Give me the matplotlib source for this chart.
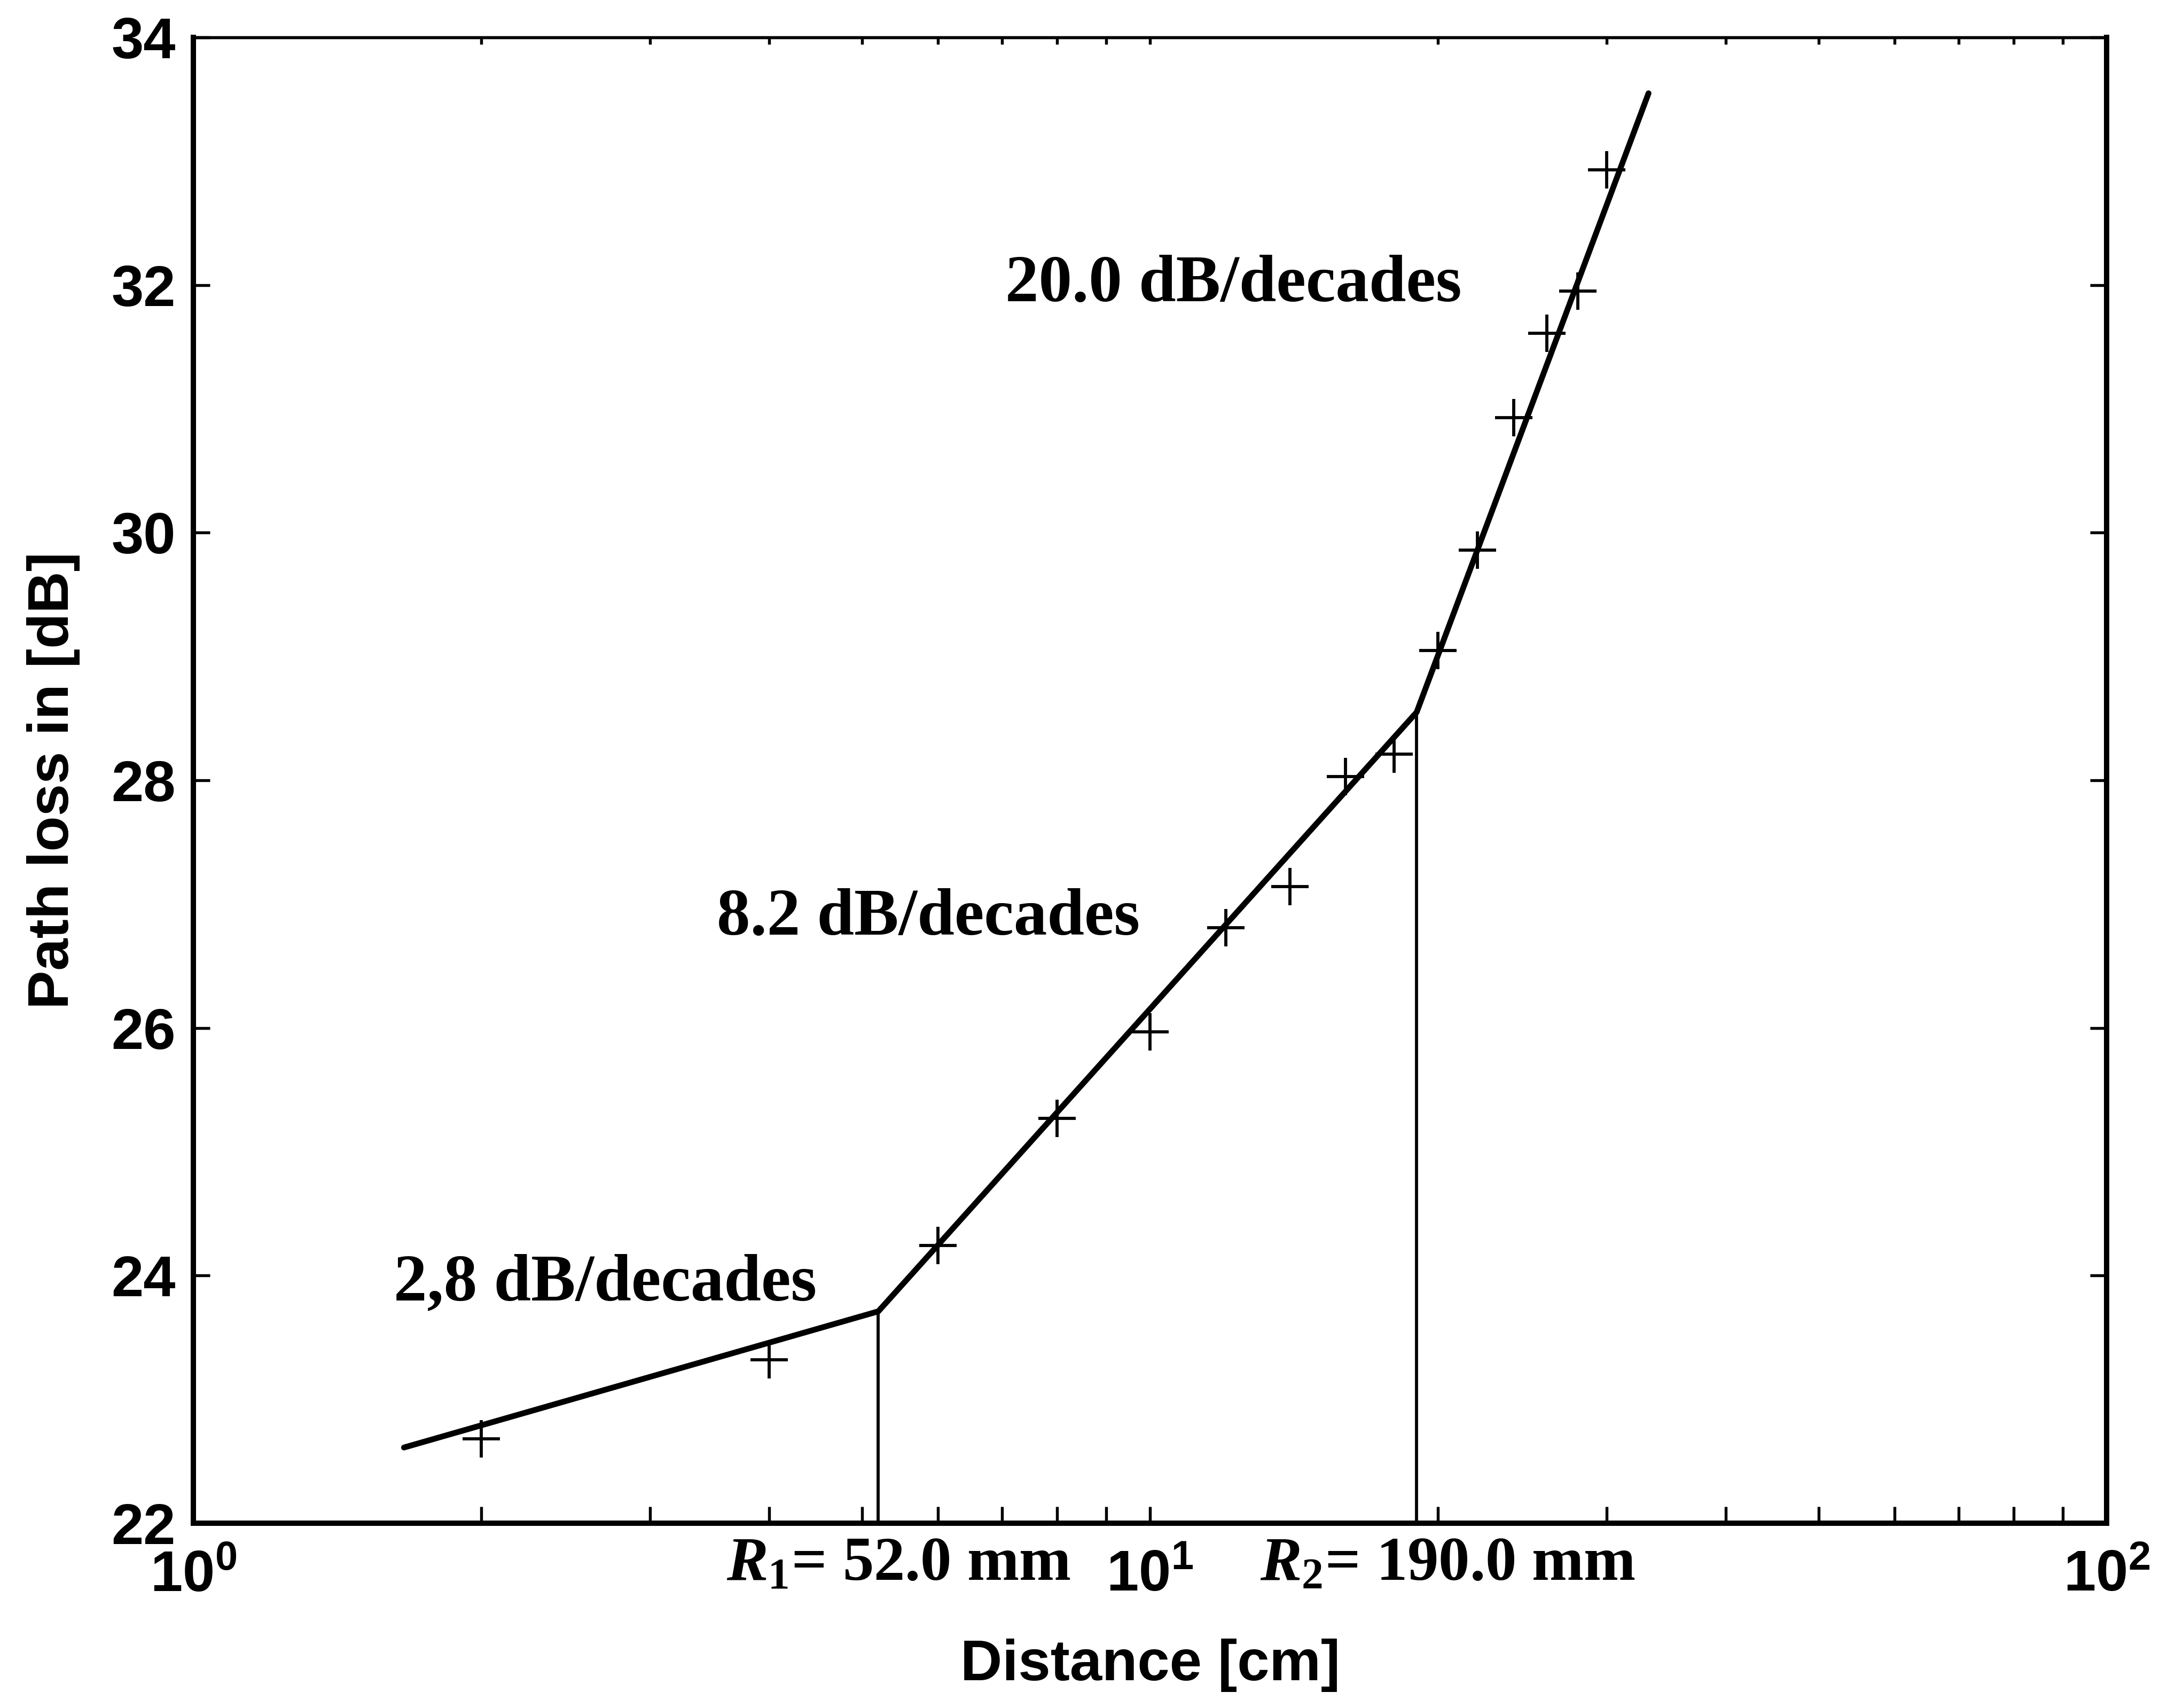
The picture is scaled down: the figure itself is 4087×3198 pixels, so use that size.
import numpy as np
import matplotlib.pyplot as plt
from matplotlib.ticker import LogLocator, NullFormatter, FixedLocator

plt.rcParams['font.family'] = ['Liberation Sans', 'DejaVu Sans']
plt.rcParams['font.weight'] = 'bold'
plt.rcParams['axes.labelweight'] = 'bold'
plt.rcParams['mathtext.fontset'] = 'custom'
plt.rcParams['mathtext.rm'] = 'Liberation Serif:bold'
plt.rcParams['mathtext.it'] = 'Liberation Serif:italic:bold'
plt.rcParams['mathtext.bf'] = 'Liberation Serif:bold'

# measured path loss (+ markers)
dist_meas = [2, 4, 6, 8, 10, 12, 14, 16, 18, 20, 22, 24, 26, 28, 30]
loss_meas = [22.68, 23.32, 24.24, 25.27, 25.97, 26.81, 27.14, 28.03, 28.21,
             29.05, 29.86, 30.93, 31.61, 31.95, 32.93]

# three-slope fit (corner points of the piecewise line)
dist_fit = [1.66, 5.2, 19.0, 33.2]
loss_fit = [22.61, 23.71, 28.55, 33.55]

r1 = 5.2    # cm
r2 = 19.0   # cm
slope_labels = ['2,8 dB/decades', '8.2 dB/decades', '20.0 dB/decades']
r_labels = [r'$R_1$= 52.0 mm', r'$R_2$= 190.0 mm']
yticks = [22, 24, 26, 28, 30, 32, 34]

fig = plt.figure(figsize=(4087 / 300, 3198 / 300), dpi=300)
ax = fig.add_axes([0.0886, 0.1083, 0.8764, 0.8697])

ax.plot(dist_fit, loss_fit, color='black', lw=2.6, solid_capstyle='round')
ax.plot(dist_meas, loss_meas, ls='none', marker='+', ms=17, mew=1.4, color='black')

# vertical lines at the breakpoints
lf = np.log10(dist_fit)
for r in (r1, r2):
    yb = np.interp(np.log10(r), lf, loss_fit)
    ax.plot([r, r], [22, yb], color='black', lw=1.4)

ax.set_xscale('log')
ax.set_xlim(1, 100)
ax.set_ylim(22, 34)
ax.yaxis.set_major_locator(FixedLocator(yticks))
ax.xaxis.set_major_locator(LogLocator(base=10))
ax.xaxis.set_minor_locator(LogLocator(base=10, subs=np.arange(2, 10)))
ax.xaxis.set_minor_formatter(NullFormatter())

ax.tick_params(which='both', direction='in', right=True, top=False,
               length=7.5, width=1.3, labelsize=26)
ax.tick_params(axis='y', pad=8)
ax.tick_params(axis='x', pad=12)

top = ax.secondary_xaxis('top')
top.xaxis.set_major_locator(LogLocator(base=10))
top.xaxis.set_minor_locator(LogLocator(base=10, subs=np.arange(2, 10)))
top.xaxis.set_major_formatter(NullFormatter())
top.xaxis.set_minor_formatter(NullFormatter())
top.tick_params(which='both', direction='in', length=3, width=1.3)
top.spines['top'].set_linewidth(1.3)

for side in ['left', 'bottom', 'right']:
    ax.spines[side].set_linewidth(2.4)
ax.spines['top'].set_linewidth(1.3)

ax.set_xlabel('Distance [cm]', fontsize=26, labelpad=16)
ax.set_ylabel('Path loss in [dB]', fontsize=26, labelpad=14)

serif = dict(family='Liberation Serif', weight='bold', fontsize=30,
             transform=ax.transAxes, ha='left', va='center')
ax.text(0.1048, 0.161, slope_labels[0], **serif)
ax.text(0.2737, 0.4068, slope_labels[1], **serif)
ax.text(0.4243, 0.8332, slope_labels[2], **serif)

rlab = dict(family='Liberation Serif', weight='bold', fontsize=28,
            transform=ax.transAxes, ha='left', va='center')
ax.text(0.2787, -0.0286, r_labels[0], **rlab)
ax.text(0.5575, -0.0286, r_labels[1], **rlab)

fig.savefig('out.png', dpi=300)
